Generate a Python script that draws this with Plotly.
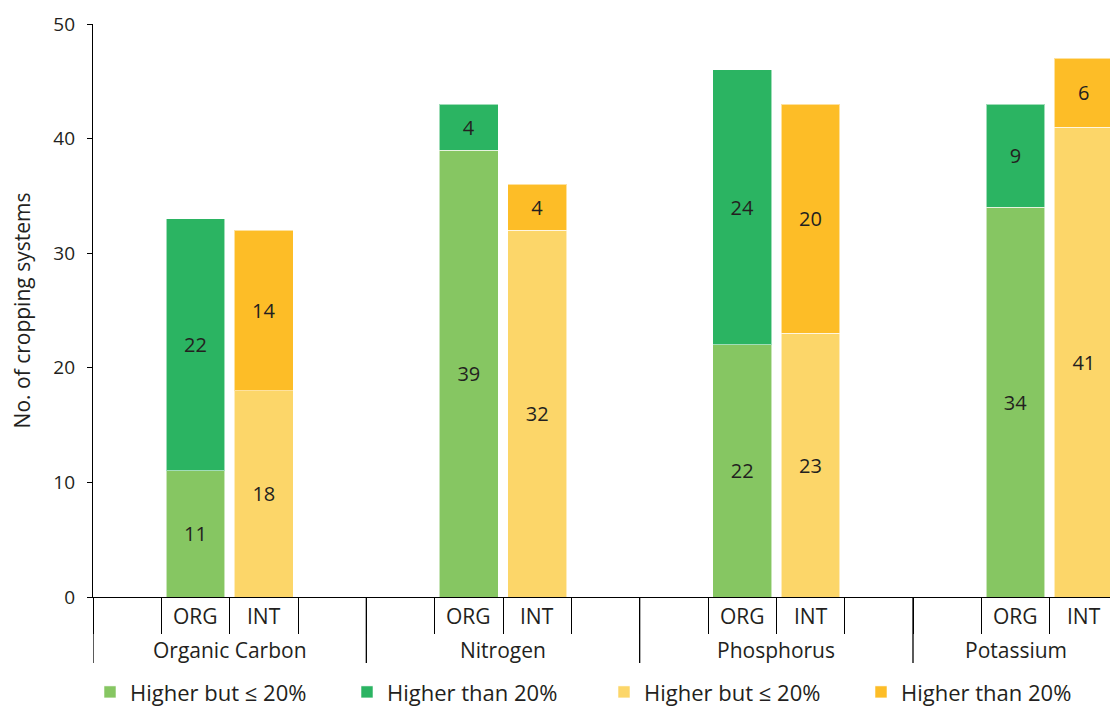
import plotly.graph_objects as go

groups = ["Organic Carbon", "Nitrogen", "Phosphorus", "Potassium"]
subcats = ["ORG", "INT"]
slots_per_group = 4
org_low = [11, 39, 22, 34]
org_high = [22, 4, 24, 9]
int_low = [18, 32, 23, 41]
int_high = [14, 4, 20, 6]
legend_names = ["Higher but \u2264 20%", "Higher than 20%", "Higher but \u2264 20%", "Higher than 20%"]
colors = ["#86C662", "#2BB462", "#FCD669", "#FDBD27"]
y_ticks = [0, 10, 20, 30, 40, 50]

FONT = "Open Sans"
TXT = "#231F20"

org_x = [slots_per_group * i + 1.5 for i in range(len(groups))]
int_x = [slots_per_group * i + 2.5 for i in range(len(groups))]

fig = go.Figure()
series = [(org_x, org_low), (org_x, org_high), (int_x, int_low), (int_x, int_high)]
for k, (xs, ys) in enumerate(series):
    fig.add_trace(go.Bar(
        x=xs, y=ys, name=legend_names[k], legendgroup=f"g{k}",
        marker=dict(color=colors[k], line=dict(color="rgba(255,255,255,0.55)", width=1)),
        width=0.86,
        text=[str(v) for v in ys], textposition="inside", insidetextanchor="middle",
        textangle=0, constraintext="none",
        textfont=dict(family=FONT, size=20, color=TXT),
        hoverinfo="skip",
    ))

n_slots = slots_per_group * len(groups)
x_max = n_slots - 1  # the last (empty) slot is cut off, as in the original
shapes = []
for g in range(len(groups) + 1):
    shapes.append(dict(type="line", xref="x", yref="paper",
                       x0=g * slots_per_group, x1=g * slots_per_group,
                       y0=0, y1=-0.1152, line=dict(color="black", width=1.3)))

annotations = []
for i, grp in enumerate(groups):
    g0 = slots_per_group * i
    g1 = min(slots_per_group * (i + 1), x_max)
    annotations.append(dict(x=(g0 + g1) / 2, y=-0.0925, xref="x", yref="paper",
                            text=grp, showarrow=False, yanchor="middle",
                            font=dict(family=FONT, size=21, color=TXT)))
    for j, s in enumerate(subcats):
        annotations.append(dict(x=g0 + 1.5 + j, y=-0.0332, xref="x", yref="paper",
                                text=s, showarrow=False, yanchor="middle",
                                font=dict(family=FONT, size=21, color=TXT)))

fig.update_layout(
    width=1110, height=730,
    margin=dict(l=85, r=0, t=16, b=141),
    barmode="stack",
    plot_bgcolor="white", paper_bgcolor="white",
    font=dict(family=FONT, size=19, color=TXT),
    xaxis=dict(range=[0, x_max], tickmode="array",
               tickvals=list(range(0, x_max)), ticktext=[""] * x_max,
               ticks="outside", ticklen=36, tickwidth=1.3, tickcolor="black",
               showline=True, linecolor="black", linewidth=1.3,
               showgrid=False, zeroline=False, fixedrange=True),
    yaxis=dict(range=[0, 50], tickvals=y_ticks, ticks="outside", ticklen=5,
               tickwidth=1.3, tickcolor="black",
               showline=True, linecolor="black", linewidth=1.3,
               showgrid=False, zeroline=False,
               tickfont=dict(family=FONT, size=19, color=TXT),
               ticklabelstandoff=8,
               title=dict(text="No. of cropping systems", standoff=24,
                          font=dict(family=FONT, size=21, color=TXT))),
    showlegend=True,
    legend=dict(orientation="h", x=-0.001, xanchor="left", y=-0.166, yanchor="middle",
                entrywidth=212, entrywidthmode="pixels", traceorder="normal",
                font=dict(family=FONT, size=22, color=TXT), itemwidth=30,
                bgcolor="rgba(0,0,0,0)"),
    shapes=shapes,
    annotations=annotations,
)

fig.write_html("out.html")
